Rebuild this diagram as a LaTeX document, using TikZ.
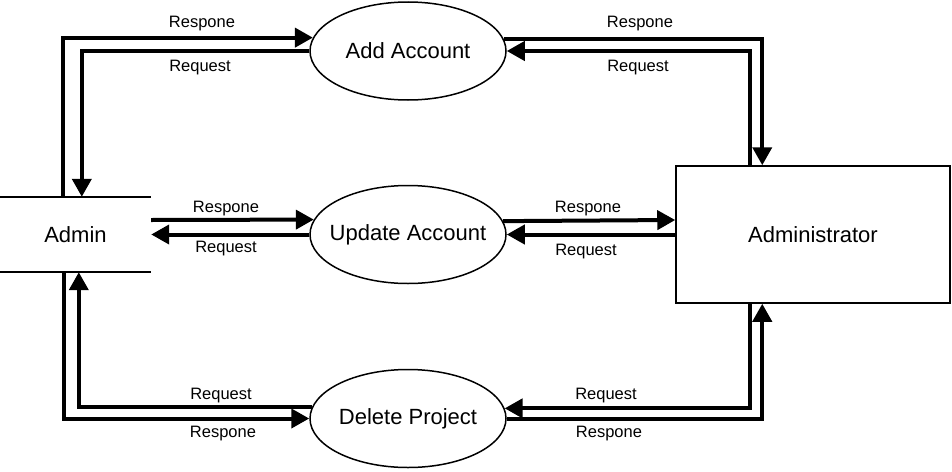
\documentclass[tikz,border=0pt]{standalone}
\usepackage{fontspec}
\setmainfont{Liberation Sans}
\usetikzlibrary{arrows.meta,shapes.geometric,calc}
\begin{document}
\begin{tikzpicture}[x=1pt,y=-1pt,
  proc/.style={ellipse,draw,line width=1.5pt,minimum width=196pt,minimum height=98pt,inner sep=0pt,font=\fontsize{22}{25}\selectfont},
  flow/.style={line width=4pt,-{Triangle[length=18pt,width=19pt]}},
  lbl/.style={font=\fontsize{16.5}{19}\selectfont,inner sep=0pt}]
\useasboundingbox (0,0) rectangle (952,471);
\node[proc] (Add) at (408,51) {\makebox[0pt]{Add Account}};
\node[proc] (Upd) at (408,234.5) {\makebox[0pt]{Update Account}};
\node[proc] (Del) at (408,418.5) {\makebox[0pt]{Delete Project}};
\node[minimum width=151pt,minimum height=75pt,inner sep=0pt,font=\fontsize{22}{25}\selectfont] (Admin) at (75.5,234.5) {Admin};
\draw[line width=1.5pt] (Admin.north west) -- (Admin.north east);
\draw[line width=1.5pt] (Admin.south west) -- (Admin.south east);
\node[draw,line width=1.5pt,minimum width=274pt,minimum height=137pt,inner sep=0pt,font=\fontsize{22}{25}\selectfont] (Box) at (813,234.5) {Administrator};
% top
\draw[flow] ([xshift=63pt]Admin.north west) |- (Add.172.2);
\draw[flow] (Add.west) -| ([xshift=82pt]Admin.north west);
\draw[flow] (Add.7.8) -| ([xshift=87pt]Box.north west);
\draw[flow] ([xshift=75pt]Box.north west) |- (Add.east);
% middle
\draw[flow] ([yshift=14.5pt]Admin.east) -- (Upd.171.2);
\draw[flow] (Upd.west) -- (Admin.east);
\draw[flow] (Upd.8.8) -- ([yshift=14.5pt]Box.west);
\draw[flow] (Box.west) -- (Upd.east);
% bottom
\draw[flow] (Del.173.1) -| ([xshift=79pt]Admin.south west);
\draw[flow] ([xshift=64pt]Admin.south west) |- (Del.west);
\draw[flow] ([xshift=75pt]Box.south west) |- (Del.6.9);
\draw[flow] (Del.east) -| ([xshift=87pt]Box.south west);
% labels
\node[lbl] (l1) at (202,24) {Respone};
\node[lbl] (l2) at (200,68) {Request};
\node[lbl] (l3) at (640,24) {Respone};
\node[lbl] (l4) at (638,68) {Request};
\node[lbl] (l5) at (226,209) {Respone};
\node[lbl] (l6) at (226,249) {Request};
\node[lbl] (l7) at (588,209) {Respone};
\node[lbl] (l8) at (586,252) {Request};
\node[lbl] (l9) at (221,396) {Request};
\node[lbl] (l10) at (223,434) {Respone};
\node[lbl] (l11) at (606,396) {Request};
\node[lbl] (l12) at (609,434) {Respone};
\end{tikzpicture}
\end{document}
